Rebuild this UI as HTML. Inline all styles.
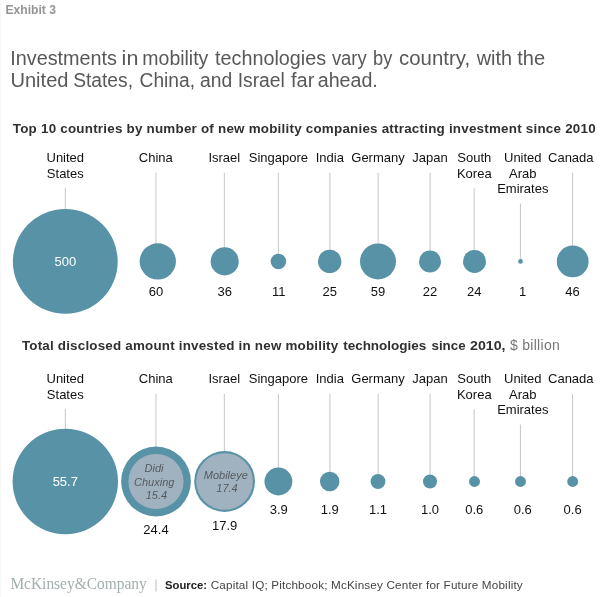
<!DOCTYPE html>
<html><head><meta charset="utf-8"><title>Exhibit 3</title>
<style>
html,body{margin:0;padding:0;background:#fff;}
svg{display:block;font-family:"Liberation Sans",Arial,Helvetica,sans-serif;}
.lab{font-size:13px;fill:#111;text-anchor:middle;}
.val{font-size:13px;fill:#111;text-anchor:middle;}
.sub{font-size:13.4px;font-weight:bold;fill:#303030;}
.ital{font-size:11px;font-style:italic;fill:#555b60;text-anchor:middle;}
</style></head><body>
<svg width="600" height="597" viewBox="0 0 600 597">
<rect width="600" height="597" fill="#fff"/>
<rect x="0" y="0" width="1" height="597" fill="#f8f8f8"/>
<text x="5.5" y="13.6" font-size="13.2px" font-weight="bold" fill="#949494" textLength="50.5" lengthAdjust="spacingAndGlyphs">Exhibit 3</text>
<text y="64.7" font-size="19.6px" fill="#585858"><tspan x="10.23" textLength="106.74" lengthAdjust="spacingAndGlyphs">Investments</tspan> <tspan x="121.63" textLength="16.76" lengthAdjust="spacingAndGlyphs">in</tspan> <tspan x="142.33" textLength="66.01" lengthAdjust="spacingAndGlyphs">mobility</tspan> <tspan x="215.05" textLength="111.04" lengthAdjust="spacingAndGlyphs">technologies</tspan> <tspan x="331.88" textLength="34.85" lengthAdjust="spacingAndGlyphs">vary</tspan> <tspan x="373.04" textLength="19.23" lengthAdjust="spacingAndGlyphs">by</tspan> <tspan x="399.09" textLength="71.03" lengthAdjust="spacingAndGlyphs">country,</tspan> <tspan x="476.7" textLength="35.35" lengthAdjust="spacingAndGlyphs">with</tspan> <tspan x="517.24" textLength="27.85" lengthAdjust="spacingAndGlyphs">the</tspan></text>
<text y="86.5" font-size="19.6px" fill="#585858"><tspan x="10.46" textLength="58.03" lengthAdjust="spacingAndGlyphs">United</tspan> <tspan x="73.14" textLength="59.88" lengthAdjust="spacingAndGlyphs">States,</tspan> <tspan x="139.62" textLength="55.41" lengthAdjust="spacingAndGlyphs">China,</tspan> <tspan x="199.94" textLength="32.17" lengthAdjust="spacingAndGlyphs">and</tspan> <tspan x="237.68" textLength="47.2" lengthAdjust="spacingAndGlyphs">Israel</tspan> <tspan x="291.04" textLength="23.34" lengthAdjust="spacingAndGlyphs">far</tspan> <tspan x="317.72" textLength="60.09" lengthAdjust="spacingAndGlyphs">ahead.</tspan></text>
<text x="12.8" y="133" class="sub" textLength="582.8" lengthAdjust="spacing">Top 10 countries by number of new mobility companies attracting investment since 2010</text>
<text y="350" class="sub"><tspan x="21.88" textLength="316.3" lengthAdjust="spacing">Total disclosed amount invested in new mobility</tspan> <tspan x="343.17" textLength="83.12" lengthAdjust="spacingAndGlyphs">technologies</tspan> <tspan x="431.5" textLength="34.1" lengthAdjust="spacingAndGlyphs">since</tspan> <tspan x="470.07" textLength="35.47" lengthAdjust="spacingAndGlyphs">2010,</tspan></text>
<text x="510" y="350" font-size="14px" fill="#777" textLength="49.8" lengthAdjust="spacing">$ billion</text>

<text class="lab" x="65.3" y="162.4">United</text>
<text class="lab" x="65.3" y="177.8">States</text>
<rect x="64.8" y="188.2" width="1.1" height="73.2" fill="#cbcbcb"/>
<text class="lab" x="155.8" y="162.4">China</text>
<rect x="155.4" y="172.8" width="1.1" height="88.6" fill="#cbcbcb"/>
<text class="lab" x="224.3" y="162.4">Israel</text>
<rect x="223.8" y="172.8" width="1.1" height="88.6" fill="#cbcbcb"/>
<text class="lab" x="278.4" y="162.4">Singapore</text>
<rect x="277.8" y="172.8" width="1.1" height="88.6" fill="#cbcbcb"/>
<text class="lab" x="329.8" y="162.4">India</text>
<rect x="329.4" y="172.8" width="1.1" height="88.6" fill="#cbcbcb"/>
<text class="lab" x="378" y="162.4">Germany</text>
<rect x="377.6" y="172.8" width="1.1" height="88.6" fill="#cbcbcb"/>
<text class="lab" x="430" y="162.4">Japan</text>
<rect x="429.5" y="172.8" width="1.1" height="88.6" fill="#cbcbcb"/>
<text class="lab" x="474.3" y="162.4">South</text>
<text class="lab" x="474.3" y="177.8">Korea</text>
<rect x="473.6" y="188.2" width="1.1" height="73.2" fill="#cbcbcb"/>
<text class="lab" x="522.8" y="162.4">United</text>
<text class="lab" x="522.8" y="177.8">Arab</text>
<text class="lab" x="522.8" y="193.1">Emirates</text>
<rect x="519.9" y="203.5" width="1.1" height="57.9" fill="#cbcbcb"/>
<text class="lab" x="570.8" y="162.4">Canada</text>
<rect x="572.0" y="172.8" width="1.1" height="88.6" fill="#cbcbcb"/>
<circle cx="65.3" cy="261.4" r="52.40" fill="#5792a7"/>
<text x="65.3" y="266.2" font-size="13px" fill="#fff" text-anchor="middle">500</text>
<circle cx="157.8" cy="261.4" r="18.15" fill="#5792a7"/>
<text class="val" x="156" y="296.2">60</text>
<circle cx="224.7" cy="261.4" r="14.06" fill="#5792a7"/>
<text class="val" x="224.7" y="296.2">36</text>
<circle cx="278.4" cy="261.4" r="7.77" fill="#5792a7"/>
<text class="val" x="278.7" y="296.2">11</text>
<circle cx="329.7" cy="261.4" r="11.72" fill="#5792a7"/>
<text class="val" x="329.8" y="296.2">25</text>
<circle cx="378" cy="261.4" r="18.00" fill="#5792a7"/>
<text class="val" x="378" y="296.2">59</text>
<circle cx="430" cy="261.4" r="10.99" fill="#5792a7"/>
<text class="val" x="430" y="296.2">22</text>
<circle cx="474.5" cy="261.4" r="11.48" fill="#5792a7"/>
<text class="val" x="474.3" y="296.2">24</text>
<circle cx="520.5" cy="261.4" r="2.34" fill="#5792a7"/>
<text class="val" x="522.7" y="296.2">1</text>
<circle cx="572.7" cy="261.4" r="15.89" fill="#5792a7"/>
<text class="val" x="572.6" y="296.2">46</text>
<text class="lab" x="65.3" y="383.4">United</text>
<text class="lab" x="65.3" y="398.8">States</text>
<rect x="64.8" y="409.1" width="1.1" height="72.4" fill="#cbcbcb"/>
<text class="lab" x="155.8" y="383.4">China</text>
<rect x="155.4" y="393.8" width="1.1" height="87.7" fill="#cbcbcb"/>
<text class="lab" x="224.3" y="383.4">Israel</text>
<rect x="223.8" y="393.8" width="1.1" height="87.7" fill="#cbcbcb"/>
<text class="lab" x="278.4" y="383.4">Singapore</text>
<rect x="277.8" y="393.8" width="1.1" height="87.7" fill="#cbcbcb"/>
<text class="lab" x="329.8" y="383.4">India</text>
<rect x="329.4" y="393.8" width="1.1" height="87.7" fill="#cbcbcb"/>
<text class="lab" x="378" y="383.4">Germany</text>
<rect x="377.6" y="393.8" width="1.1" height="87.7" fill="#cbcbcb"/>
<text class="lab" x="430" y="383.4">Japan</text>
<rect x="429.5" y="393.8" width="1.1" height="87.7" fill="#cbcbcb"/>
<text class="lab" x="474.3" y="383.4">South</text>
<text class="lab" x="474.3" y="398.8">Korea</text>
<rect x="473.6" y="409.1" width="1.1" height="72.4" fill="#cbcbcb"/>
<text class="lab" x="522.8" y="383.4">United</text>
<text class="lab" x="522.8" y="398.8">Arab</text>
<text class="lab" x="522.8" y="414.1">Emirates</text>
<rect x="519.9" y="424.5" width="1.1" height="57.0" fill="#cbcbcb"/>
<text class="lab" x="570.8" y="383.4">Canada</text>
<rect x="572.0" y="393.8" width="1.1" height="87.7" fill="#cbcbcb"/>
<circle cx="65.3" cy="481.5" r="52.70" fill="#5792a7"/>
<text x="65.3" y="486.3" font-size="13px" fill="#fff" text-anchor="middle">55.7</text>
<circle cx="156" cy="481.5" r="34.88" fill="#5792a7"/>
<circle cx="156" cy="481.5" r="27.60" fill="#a0b2bf"/>
<text class="ital" x="154" y="472.3">Didi</text>
<text class="ital" x="154.2" y="485.5">Chuxing</text>
<text class="ital" x="156.4" y="498.7">15.4</text>
<text class="val" x="156" y="534.3">24.4</text>
<circle cx="224.6" cy="481.5" r="30.40" fill="#5792a7"/>
<circle cx="224.6" cy="481.5" r="28.35" fill="#a0b2bf"/>
<text class="ital" x="225.8" y="478.9">Mobileye</text>
<text class="ital" x="227" y="492.1">17.4</text>
<text class="val" x="224.7" y="529.8">17.9</text>
<circle cx="278.4" cy="481.5" r="13.94" fill="#5792a7"/>
<text class="val" x="278.7" y="514.3">3.9</text>
<circle cx="329.7" cy="481.5" r="9.73" fill="#5792a7"/>
<text class="val" x="329.8" y="514.3">1.9</text>
<circle cx="378" cy="481.5" r="7.41" fill="#5792a7"/>
<text class="val" x="378" y="514.3">1.1</text>
<circle cx="430" cy="481.5" r="7.06" fill="#5792a7"/>
<text class="val" x="430" y="514.3">1.0</text>
<circle cx="474.5" cy="481.5" r="5.47" fill="#5792a7"/>
<text class="val" x="474.3" y="514.3">0.6</text>
<circle cx="520.5" cy="481.5" r="5.47" fill="#5792a7"/>
<text class="val" x="522.7" y="514.3">0.6</text>
<circle cx="572.7" cy="481.5" r="5.47" fill="#5792a7"/>
<text class="val" x="572.6" y="514.3">0.6</text>
<text x="10.4" y="589" font-family="'Liberation Serif',serif" font-size="16.3px" fill="#a3aeae" textLength="136.3" lengthAdjust="spacingAndGlyphs">McKinsey&amp;Company</text>
<rect x="155.5" y="579.3" width="1" height="12.2" fill="#bdbdbd"/>
<text x="165" y="589" font-size="11.3px" font-weight="bold" fill="#222">Source:</text>
<text x="210.7" y="589" font-size="11.7px" fill="#444" textLength="312" lengthAdjust="spacing">Capital IQ; Pitchbook; McKinsey Center for Future Mobility</text>
</svg>
</body></html>
